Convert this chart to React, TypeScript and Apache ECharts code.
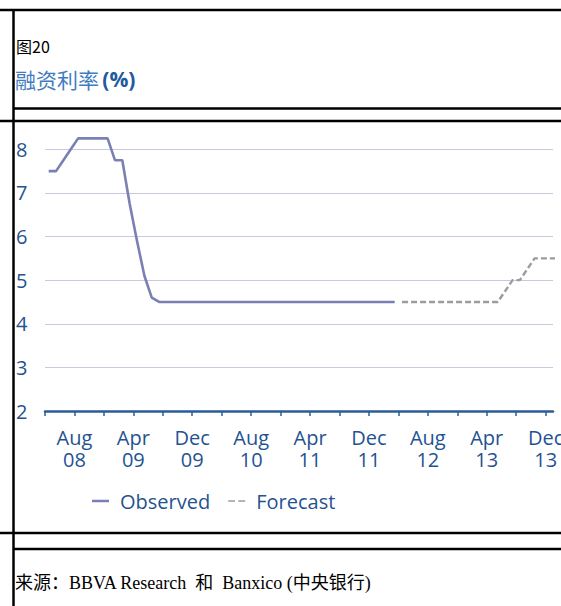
import React, { useEffect, useRef } from "react";
import * as echarts from "echarts";

// Month labels from April 2008 through January 2014 (one per month)
const MONTH_NAMES = ["Jan", "Feb", "Mar", "Apr", "May", "Jun", "Jul", "Aug", "Sep", "Oct", "Nov", "Dec"];
const months: string[] = [];
for (let k = 0; k < 70; k++) {
  const m = (3 + k) % 12;
  const y = 8 + Math.floor((3 + k) / 12);
  months.push(`${MONTH_NAMES[m]} ${String(y).padStart(2, "0")}`);
}

// Observed funding rate (%), monthly, Apr 2008 – Mar 2012
const observed = [
  7.5, 7.5, 7.75, 8.0, 8.25, 8.25, 8.25, 8.25, 8.25,
  7.75, 7.75, 6.75, 5.9, 5.1, 4.6, 4.5, 4.5, 4.5, 4.5, 4.5, 4.5,
  4.5, 4.5, 4.5, 4.5, 4.5, 4.5, 4.5, 4.5, 4.5, 4.5, 4.5, 4.5,
  4.5, 4.5, 4.5, 4.5, 4.5, 4.5, 4.5, 4.5, 4.5, 4.5, 4.5, 4.5,
  4.5, 4.5, 4.5,
];

// Forecast funding rate (%), monthly, Apr 2012 – Jan 2014
const forecastStart = 48;
const forecast = [
  4.5, 4.5, 4.5, 4.5, 4.5, 4.5, 4.5, 4.5, 4.5,
  4.5, 4.5, 4.5, 4.5, 4.5, 4.75, 5.0, 5.0, 5.25, 5.5, 5.5, 5.5,
  5.5,
];

// Tick marks every four months, labels every eight months
const tickMonths = [0, 4, 8, 12, 16, 20, 24, 28, 32, 36, 40, 44, 48, 52, 56, 60, 64, 68];
const labelMonths = [4, 12, 20, 28, 36, 44, 52, 60, 68];

const yTicks = [2, 3, 4, 5, 6, 7, 8];

const AXIS_BLUE = "#2a5c9a";
const LABEL_BLUE = "#1f5391";
const OBS_COLOR = "#7a80b4";
const FC_COLOR = "#9c9c9c";
const FONT = "'Open Sans', 'Noto Sans', sans-serif";

export default function App() {
  const ref = useRef<HTMLDivElement>(null);

  useEffect(() => {
    if (!ref.current) return;
    const chart = echarts.init(ref.current, undefined, { renderer: "svg" });

    // points sit mid-month; ticks mark month starts
    const observedData = observed.map((v, i) => [i + 0.5, v]);
    const forecastData = forecast.map((v, i) => [forecastStart + i + 0.5, v]);

    const frameLine = (x1: number, y1: number, x2: number, y2: number) => ({
      type: "line",
      shape: { x1, y1, x2, y2 },
      style: { stroke: "#000", lineWidth: 2.5 },
      silent: true,
    });

    chart.setOption({
      animation: false,
      backgroundColor: "#fff",
      grid: { left: 45, right: 8, top: 149.3, bottom: 195, outerBoundsMode: "none" },
      xAxis: {
        type: "value",
        min: 0,
        max: 69,
        interval: 4,
        splitLine: { show: false },
        axisLine: { show: true, lineStyle: { color: AXIS_BLUE, width: 2.5 } },
        axisTick: {
          show: true,
          length: 5,
          lineStyle: { color: AXIS_BLUE, width: 1.5 },
          customValues: tickMonths,
        },
        axisLabel: {
          customValues: labelMonths,
          margin: 15,
          color: LABEL_BLUE,
          fontFamily: FONT,
          fontSize: 20,
          lineHeight: 22,
          hideOverlap: false,
          formatter: (v: number) => (months[Math.round(v)] || "").replace(" ", "\n"),
        },
      },
      yAxis: {
        type: "value",
        min: yTicks[0],
        max: yTicks[yTicks.length - 1],
        interval: 1,
        axisLine: { show: false },
        axisTick: { show: false },
        splitLine: { show: true, lineStyle: { color: "#c7cadf", width: 1.2 } },
        axisLabel: {
          align: "left",
          margin: 29,
          color: LABEL_BLUE,
          fontFamily: FONT,
          fontSize: 20,
        },
      },
      legend: {
        left: 92,
        top: 491,
        padding: 0,
        itemWidth: 17,
        itemHeight: 2.5,
        itemGap: 18,
        textStyle: {
          color: LABEL_BLUE,
          fontFamily: FONT,
          fontSize: 20,
          padding: [0, 0, 0, 6],
        },
        data: [
          { name: "Observed", icon: "rect", itemStyle: { color: OBS_COLOR } },
          {
            name: "Forecast",
            icon: "path://M0,0h8v2h-8z M12,0h8v2h-8z",
            itemStyle: { color: FC_COLOR },
          },
        ],
      },
      series: [
        {
          name: "Observed",
          type: "line",
          data: observedData,
          symbol: "none",
          clip: false,
          lineStyle: { color: OBS_COLOR, width: 2.6 },
          itemStyle: { color: OBS_COLOR },
        },
        {
          name: "Forecast",
          type: "line",
          data: forecastData,
          symbol: "none",
          clip: false,
          lineStyle: { color: FC_COLOR, width: 2.4, type: [6, 3] },
          itemStyle: { color: FC_COLOR },
        },
      ],
      graphic: [
        frameLine(0, 10, 561, 10),
        frameLine(13.5, 10, 13.5, 606),
        frameLine(13.5, 108.5, 561, 108.5),
        frameLine(0, 121, 561, 121),
        frameLine(0, 533, 561, 533),
        frameLine(13.5, 549, 561, 549),
        {
          type: "text",
          left: 16,
          top: 38,
          style: {
            text: "图20",
            fill: "#000",
            font: "16px 'Noto Sans CJK SC', 'Noto Sans', sans-serif",
          },
        },
        {
          type: "text",
          left: 15,
          top: 68,
          style: {
            text: "{a|融资利率} {b|(%)}",
            rich: {
              a: { fill: "#3f7cc0", fontSize: 21, fontFamily: "'Noto Sans CJK SC', sans-serif" },
              b: { fill: "#1f5aa0", fontSize: 21, fontWeight: "bold", fontFamily: FONT },
            },
          },
        },
        {
          type: "text",
          left: 15,
          top: 574,
          style: {
            text: "来源：BBVA Research  和  Banxico (中央银行)",
            fill: "#000",
            font: "18px 'Liberation Serif', 'Noto Sans CJK SC', serif",
          },
        },
      ],
    });

    return () => chart.dispose();
  }, []);

  return (
    <div
      ref={ref}
      style={{ position: "absolute", left: 0, top: 0, width: 561, height: 606 }}
    />
  );
}
